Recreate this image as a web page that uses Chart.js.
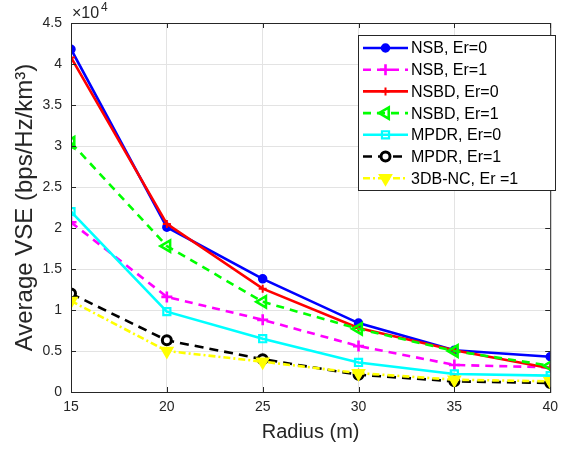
<!DOCTYPE html>
<html>
<head>
<meta charset="utf-8">
<script src="https://cdn.jsdelivr.net/npm/chart.js@4/dist/chart.umd.min.js"></script>
<style>
  body { margin: 0; background: #fff; }
  #wrap { width: 565px; height: 450px; }
</style>
</head>
<body>
<div id="wrap"><canvas id="vseChart" width="565" height="450"></canvas></div>
<script>
// radius (m) on x, VSE on y (plotted in units of 1e4 on the axis)
const radius = [15, 20, 25, 30, 35, 40];
const yTicks = [0, 5000, 10000, 15000, 20000, 25000, 30000, 35000, 40000, 45000];

const nsbEr0   = [41800, 20100, 13800, 8400, 5100, 4300];
const nsbEr1   = [20700, 11600, 8800, 5600, 3300, 3000];
const nsbdEr0  = [40800, 20500, 12600, 7800, 5100, 2900];
const nsbdEr1  = [30400, 17800, 11000, 7700, 5000, 3200];
const mpdrEr0  = [22000, 9800, 6500, 3600, 2200, 2000];
const mpdrEr1  = [12000, 6300, 4000, 2100, 1300, 1100];
const db3ncEr1 = [11100, 5000, 3700, 2300, 1500, 1300];

const FONT = '"Liberation Sans", Arial, Helvetica, sans-serif';

const mk = (label, data, color, opts) => Object.assign({
    label: label,
    data: data.map((v, i) => ({ x: radius[i], y: v })),
    borderColor: color,
    backgroundColor: color,
    pointBorderColor: color,
    pointBackgroundColor: color,
    borderWidth: 2.6,
    pointBorderWidth: 2,
    tension: 0,
    fill: false
}, opts);

const datasets = [
    mk('NSB, Er=0', nsbEr0, '#0000ff', { pointStyle: 'circle', pointRadius: 4, pointBorderWidth: 1.5 }),
    mk('NSB, Er=1', nsbEr1, '#ff00ff', { borderDash: [8, 6], pointStyle: 'cross', pointRadius: 5.5, pointBorderWidth: 2.6 }),
    mk('NSBD, Er=0', nsbdEr0, '#ff0000', { pointStyle: 'cross', pointRadius: 4, pointBorderWidth: 2 }),
    mk('NSBD, Er=1', nsbdEr1, '#00ff00', { borderDash: [8, 6], pointStyle: 'triangle', pointRotation: -90, pointRadius: 6.5, pointBackgroundColor: 'rgba(0,0,0,0)', pointBorderWidth: 2.6 }),
    mk('MPDR, Er=0', mpdrEr0, '#00ffff', { pointStyle: 'rect', pointRadius: 5, pointBackgroundColor: 'rgba(0,0,0,0)', pointBorderWidth: 2.2 }),
    mk('MPDR, Er=1', mpdrEr1, '#000000', { borderDash: [9, 6], pointStyle: 'circle', pointRadius: 4.5, pointBackgroundColor: '#ffffff', pointBorderWidth: 3 }),
    mk('3DB-NC, Er =1', db3ncEr1, '#ffff00', { borderDash: [7, 3, 2, 3], pointStyle: 'triangle', pointRotation: 180, pointRadius: 6.5 })
];
// last series drawn on top, like the original
datasets.forEach((d, i) => { d.order = datasets.length - i; });

// MATLAB-ish box, inward ticks, x10^4 multiplier and line+marker legend
const matlabDecor = {
    id: 'matlabDecor',
    afterDatasetsDraw(chart) {
        const { ctx, chartArea: a, scales } = chart;
        ctx.save();
        ctx.strokeStyle = '#262626';
        ctx.lineWidth = 1;
        ctx.setLineDash([]);
        ctx.strokeRect(a.left + 0.5, a.top + 0.5, a.right - a.left, a.bottom - a.top);
        const tl = 5;
        ctx.beginPath();
        radius.forEach(v => {
            const px = Math.round(scales.x.getPixelForValue(v)) + 0.5;
            ctx.moveTo(px, a.bottom); ctx.lineTo(px, a.bottom - tl);
            ctx.moveTo(px, a.top); ctx.lineTo(px, a.top + tl);
        });
        yTicks.forEach(v => {
            const py = Math.round(scales.y.getPixelForValue(v)) + 0.5;
            ctx.moveTo(a.left, py); ctx.lineTo(a.left + tl, py);
            ctx.moveTo(a.right, py); ctx.lineTo(a.right - tl, py);
        });
        ctx.stroke();

        // exponent label
        ctx.fillStyle = '#262626';
        ctx.font = '16px ' + FONT;
        ctx.textBaseline = 'alphabetic';
        ctx.textAlign = 'left';
        ctx.fillText('\u00d710', a.left + 1, a.top - 5);
        ctx.font = '12px ' + FONT;
        ctx.fillText('4', a.left + 30, a.top - 12);

        // legend
        const bx = 358, by = 35, bw = 197, bh = 155;
        ctx.fillStyle = '#ffffff';
        ctx.fillRect(bx, by, bw, bh);
        ctx.strokeStyle = '#262626';
        ctx.strokeRect(bx + 0.5, by + 0.5, bw, bh);
        const rowH = 21.7;
        datasets.forEach((d, i) => {
            const y = by + 13 + i * rowH;
            ctx.save();
            ctx.strokeStyle = d.borderColor;
            ctx.lineWidth = d.borderWidth;
            ctx.setLineDash(d.borderDash || []);
            ctx.beginPath();
            ctx.moveTo(bx + 5, y); ctx.lineTo(bx + 50, y);
            ctx.stroke();
            ctx.setLineDash([]);
            ctx.strokeStyle = d.pointBorderColor;
            ctx.fillStyle = d.pointBackgroundColor;
            ctx.lineWidth = d.pointBorderWidth;
            Chart.helpers.drawPoint(ctx, {
                pointStyle: d.pointStyle,
                rotation: d.pointRotation || 0,
                radius: d.pointRadius,
                borderWidth: d.pointBorderWidth
            }, bx + 27.5, y);
            ctx.restore();
            ctx.fillStyle = '#000000';
            ctx.font = '16px ' + FONT;
            ctx.textBaseline = 'middle';
            ctx.fillText(d.label, bx + 53, y + 1);
        });
        ctx.restore();
    }
};

new Chart(document.getElementById('vseChart'), {
    type: 'line',
    data: { datasets: datasets },
    options: {
        responsive: false,
        animation: false,
        devicePixelRatio: 1,
        layout: { padding: { top: 23, right: 8, left: 0, bottom: 0 } },
        plugins: { legend: { display: false }, tooltip: { enabled: false } },
        scales: {
            x: {
                type: 'linear',
                min: 15, max: 40,
                afterFit: s => { s.height = 58; },
                afterBuildTicks: s => { s.ticks = radius.map(v => ({ value: v })); },
                ticks: { color: '#262626', font: { family: FONT, size: 14 }, padding: 7, maxRotation: 0 },
                grid: { color: '#e3e3e3', tickLength: 0 },
                border: { color: '#262626' },
                title: { display: true, text: 'Radius (m)', color: '#262626', font: { family: FONT, size: 20 }, padding: { top: 0, bottom: 6 } }
            },
            y: {
                min: 0, max: 45000,
                afterFit: s => { s.width = 71; },
                afterBuildTicks: s => { s.ticks = yTicks.map(v => ({ value: v })); },
                ticks: {
                    color: '#262626', font: { family: FONT, size: 14 }, padding: 9,
                    callback: v => String(v / 10000)
                },
                grid: { color: '#e3e3e3', tickLength: 0 },
                border: { color: '#262626' },
                title: { display: true, text: 'Average VSE (bps/Hz/km\u00b3)', color: '#262626', font: { family: FONT, size: 24 }, padding: { top: 11, bottom: 0 } }
            }
        }
    },
    plugins: [matlabDecor]
});
</script>
</body>
</html>
